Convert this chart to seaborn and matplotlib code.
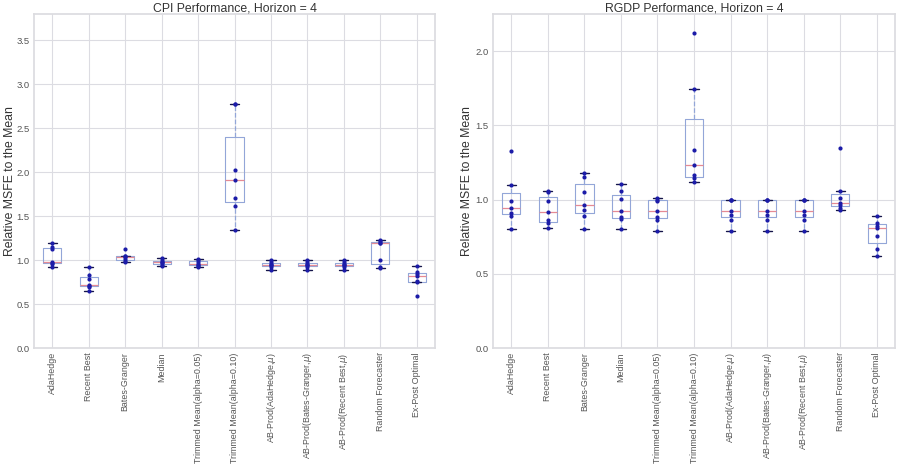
import numpy as np
import pandas as pd
import matplotlib
matplotlib.use("Agg")
import matplotlib.pyplot as plt
import seaborn as sns

methods = ["AdaHedge", "Recent Best", "Bates-Granger", "Median",
           "Trimmed Mean(alpha=0.05)", "Trimmed Mean(alpha=0.10)",
           "AB-Prod(AdaHedge,$\\mu$)", "AB-Prod(Bates-Granger,$\\mu$)",
           "AB-Prod(Recent Best,$\\mu$)", "Random Forecaster", "Ex-Post Optimal"]

cpi_adahedge = [0.92, 0.96, 0.97, 0.98, 1.13, 1.15, 1.19]
cpi_recent_best = [0.65, 0.69, 0.71, 0.72, 0.79, 0.83, 0.92]
cpi_bates_granger = [0.98, 0.99, 1.01, 1.04, 1.045, 1.05, 1.125]
cpi_median = [0.93, 0.95, 0.97, 0.975, 0.98, 1.00, 1.02]
cpi_trim05 = [0.92, 0.93, 0.95, 0.96, 0.98, 1.00, 1.01]
cpi_trim10 = [1.34, 1.61, 1.71, 1.91, 2.02, 2.78, 2.78]
cpi_ab_ada = [0.89, 0.92, 0.94, 0.945, 0.96, 0.98, 1.00]
cpi_ab_bg = [0.89, 0.92, 0.94, 0.945, 0.96, 0.98, 1.00]
cpi_ab_rb = [0.89, 0.92, 0.94, 0.945, 0.96, 0.98, 1.00]
cpi_random = [0.91, 0.92, 1.00, 1.19, 1.20, 1.22, 1.23]
cpi_expost = [0.59, 0.75, 0.76, 0.82, 0.84, 0.86, 0.93]

rgdp_adahedge = [0.80, 0.89, 0.91, 0.94, 0.99, 1.10, 1.33]
rgdp_recent_best = [0.81, 0.84, 0.86, 0.915, 0.99, 1.05, 1.06]
rgdp_bates_granger = [0.805, 0.89, 0.93, 0.96, 1.05, 1.155, 1.18]
rgdp_median = [0.80, 0.87, 0.885, 0.925, 1.005, 1.055, 1.105]
rgdp_trim05 = [0.79, 0.865, 0.885, 0.92, 0.99, 1.00, 1.01]
rgdp_trim10 = [1.12, 1.145, 1.165, 1.23, 1.335, 1.745, 2.12]
rgdp_ab_ada = [0.79, 0.865, 0.895, 0.92, 1.00, 1.00, 1.00]
rgdp_ab_bg = [0.79, 0.865, 0.895, 0.92, 1.00, 1.00, 1.00]
rgdp_ab_rb = [0.79, 0.865, 0.895, 0.92, 1.00, 1.00, 1.00]
rgdp_random = [0.93, 0.945, 0.965, 0.98, 1.01, 1.06, 1.35]
rgdp_expost = [0.62, 0.665, 0.755, 0.81, 0.825, 0.84, 0.89]

cpi_series = [cpi_adahedge, cpi_recent_best, cpi_bates_granger, cpi_median,
              cpi_trim05, cpi_trim10, cpi_ab_ada, cpi_ab_bg, cpi_ab_rb,
              cpi_random, cpi_expost]
rgdp_series = [rgdp_adahedge, rgdp_recent_best, rgdp_bates_granger, rgdp_median,
               rgdp_trim05, rgdp_trim10, rgdp_ab_ada, rgdp_ab_bg, rgdp_ab_rb,
               rgdp_random, rgdp_expost]

titles = ["CPI Performance, Horizon = 4", "RGDP Performance, Horizon = 4"]
cpi_yticks = [0.0, 0.5, 1.0, 1.5, 2.0, 2.5, 3.0, 3.5]
rgdp_yticks = [0.0, 0.5, 1.0, 1.5, 2.0]


def long_frame(series):
    rows = []
    for m, vals in zip(methods, series):
        for v in vals:
            rows.append((m, v))
    return pd.DataFrame(rows, columns=["method", "msfe"])


sns.set_theme(style="whitegrid")
plt.rcParams["font.family"] = ["Liberation Sans", "DejaVu Sans"]
plt.rcParams["axes.edgecolor"] = "#dcdce0"
plt.rcParams["grid.color"] = "#dcdce2"
plt.rcParams["mathtext.fontset"] = "dejavusans"

fig = plt.figure(figsize=(9.03, 4.68), dpi=100)
ax1 = fig.add_axes([0.0377, 0.2564, 0.4441, 0.7137])
ax2 = fig.add_axes([0.5460, 0.2564, 0.4452, 0.7137])

box_col = "#93a6d8"
for ax, series, title, yt, ylim, lx in [
    (ax1, cpi_series, titles[0], cpi_yticks, 3.8, -0.044),
    (ax2, rgdp_series, titles[1], rgdp_yticks, 2.25, -0.05),
]:
    df = long_frame(series)
    sns.boxplot(data=df, x="method", y="msfe", order=methods, ax=ax,
                fill=False, width=0.5, linewidth=0.8, linecolor=box_col,
                showfliers=False, whis=1.5,
                medianprops=dict(color="#e58a94", linewidth=0.9),
                whiskerprops=dict(color="#93a6d8", linestyle="--", linewidth=0.9),
                capprops=dict(color="#15154a", linewidth=1.0),
                boxprops=dict(color=box_col))
    sns.stripplot(data=df, x="method", y="msfe", order=methods, ax=ax,
                  jitter=False, color="#1c1ca8", size=3.0, linewidth=0, zorder=5)
    ax.set_xlim(-0.5, len(methods) - 0.5)
    ax.set_ylim(0, ylim)
    ax.set_yticks(yt)
    ax.set_yticklabels([f"{t:.1f}" for t in yt])
    ax.set_xticks(range(len(methods)))
    ax.set_xticklabels(methods, rotation=90)
    ax.set_xlabel("")
    ax.set_ylabel("Relative MSFE to the Mean", fontsize=8.8, color="#333333")
    ax.yaxis.set_label_coords(lx, 0.5)
    ax.set_title(title, fontsize=8.8, color="#333333", pad=1.5)
    ax.tick_params(axis="x", labelsize=6.4, colors="#555555", length=0, pad=3)
    ax.tick_params(axis="y", labelsize=6.8, colors="#555555", length=0, pad=3)
    ax.grid(True, color="#dcdce2", linewidth=0.8)
    for s in ax.spines.values():
        s.set_color("#dcdce0")

fig.savefig("out.png", dpi=100)
